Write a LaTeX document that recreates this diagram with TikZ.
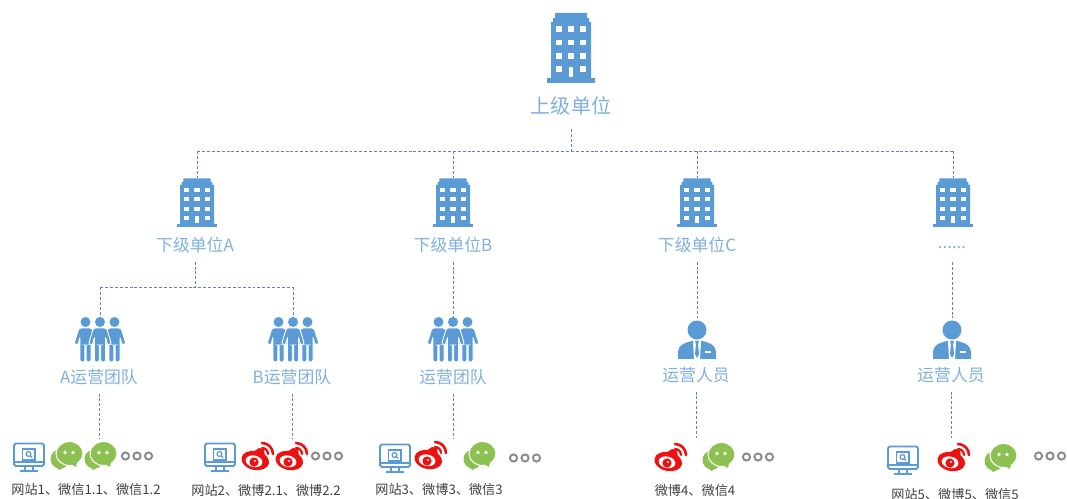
\documentclass[tikz,border=0pt]{standalone}
\usepackage{fontspec}
\setmainfont{Noto Sans CJK SC}

\definecolor{C0}{HTML}{5B9BD5}
\definecolor{C1}{HTML}{7FB0DD}
\definecolor{C2}{HTML}{8CC152}
\definecolor{C3}{HTML}{EE1111}
\definecolor{C4}{HTML}{5F83C9}
\definecolor{C5}{HTML}{8A8A8A}

\tikzset{
    link/.style={draw=C4, line width=0.55pt, dash pattern=on 1.7pt off 1.1pt},
    bigtext/.style={text=C1, font=\fontsize{11.4}{13}\selectfont, inner sep=0pt, outer sep=8pt},
    unittext/.style={text=C1, font=\fontsize{9.6}{12}\selectfont, inner sep=0pt, outer sep=5pt},
    smalltext/.style={text=black!75, font=\fontsize{7.5}{9}\selectfont, inner sep=0pt},
    smallunit/.style={xscale=0.85, yscale=0.7},
    pics/building/.style={code={
        \fill[C0] (-24,30) -- (24,30) -- (24,35) -- (-24,35) -- cycle;
        \fill[C0] (-20,31) -- (-20,-26) -- (-18,-26) -- (-18,-30) -- (-16,-30) -- (-16,-35)
            -- (16,-35) -- (16,-30) -- (18,-30) -- (18,-26) -- (20,-26) -- (20,31) -- cycle;
        \foreach \wx in {-12,0,12} {
            \foreach \wy in {-19,-5.5,8} {
                \fill[white] (\wx-3,\wy-2.8) rectangle (\wx+3,\wy+2.8);
            }
        }
        \fill[white] (-15,18.2) rectangle (-9,23.8);
        \fill[white] (9,18.2) rectangle (15,23.8);
        \fill[white] (-2.2,19) rectangle (2.2,29);
        \coordinate (-top) at (0,-35);
    }},
    pics/member/.style={code={
        \fill[C0] (0,-18) circle (5);
        \path[fill=C0, draw=white, line width=0.5pt, rounded corners=1.2pt]
            (-6.5,-12) -- (6.5,-12) -- (11.5,4) -- (7.5,5) -- (5.5,-3) -- (5.5,22) -- (0.7,22) -- (0.7,5)
            -- (-0.7,5) -- (-0.7,22) -- (-5.5,22) -- (-5.5,-3) -- (-7.5,5) -- (-11.5,4) -- cycle;
    }},
    pics/team/.style={code={
        \pic at (-14.5,0) {member};
        \pic at (14.5,0) {member};
        \pic at (0,0) {member};
        \coordinate (-top) at (0,-22);
    }},
    pics/person/.style={code={
        \fill[C0] (0,-10) circle (9.5);
        \fill[C0] (-19,19) -- (-19,12) .. controls (-19,6) and (-14,3) .. (-5,1) -- (5,1)
            .. controls (14,3) and (19,6) .. (19,12) -- (19,19) -- cycle;
        \fill[white] (-4,1) -- (4,1) -- (3,19) -- (-3,19) -- cycle;
        \fill[C0] (-1.8,1) -- (1.8,1) -- (1.1,5) -- (2,14) -- (0,18) -- (-2,14) -- (-1.1,5) -- cycle;
        \fill[white] (8,11.5) rectangle (14,13);
        \coordinate (-top) at (0,-22);
    }},
    pics/monitor/.style={code={
        \draw[C0, line width=1.1pt, rounded corners=1pt] (-15,-13.5) rectangle (15,9);
        \draw[C0, line width=0.7pt] (-15,5) -- (15,5);
        \draw[C0, line width=0.7pt] (-6.5,-8) rectangle (6,3);
        \draw[C0, line width=0.7pt] (-0.5,-3) circle (2.4) (1.2,-1.3) -- (3,0.5);
        \draw[C0, line width=1pt] (-4,9) -- (-4,13) (4,9) -- (4,13);
        \draw[C0, line width=1.1pt] (-9,14) -- (9,14);
    }},
    pics/wechat/.style={code={
        \fill[C2] (-7,3) ellipse [x radius=9.5, y radius=9.5];
        \fill[C2] (-12,9) -- (-8,14) -- (-2,11) -- cycle;
        \path[fill=C2, draw=white, line width=0.6pt] (2.5,-2.5) ellipse [x radius=13.5, y radius=12];
        \fill[C2] (4,8) -- (9,11) -- (10,6) -- cycle;
        \fill[white] (-2,-3.5) circle (1.9) (6,-3.5) circle (1.9);
    }},
    pics/weibo/.style={code={
        \fill[C3, rotate=-12] (-2,4) ellipse [x radius=14, y radius=9.5];
        \fill[C3] (-11,-1) -- (1,-9) -- (6,-8) -- (7,0) -- (0,4) -- cycle;
        \fill[white, rotate=-12] (-3,5) ellipse [x radius=8.5, y radius=5.8];
        \fill[C3] (-4,5) circle (4.6);
        \fill[white] (-3,4) circle (1.2);
        \draw[C3, line width=1.3pt, line cap=round] (4,-3) ++(-90:6) arc[start angle=-90, end angle=0, radius=6];
        \draw[C3, line width=1.5pt, line cap=round] (4,-3) ++(-90:11) arc[start angle=-90, end angle=0, radius=11];
    }},
    pics/more/.style={code={
        \foreach \ox in {-11.5,0,11.5} {
            \draw[C5, line width=1.1pt] (\ox,0) circle (3.6);
        }
    }},
}

\begin{document}
\begin{tikzpicture}[x=0.02cm, y=-0.02cm]
    \useasboundingbox (0,0) rectangle (1067,499);

    % top level
    \pic (top_unit) at (571,48) {building};
    \node[bigtext] (top_label) at (571,106) {上级单位};

    % second level
    \pic[smallunit] (unit_a) at (197,203) {building};
    \pic[smallunit] (unit_b) at (453,203) {building};
    \pic[smallunit] (unit_c) at (697,203) {building};
    \pic[smallunit] (unit_d) at (953,203) {building};
    \node[unittext] (unit_a_label) at (195,245) {下级单位A};
    \node[unittext] (unit_b_label) at (453,245) {下级单位B};
    \node[unittext] (unit_c_label) at (697,245) {下级单位C};
    \node[unittext, outer sep=7.5pt] (unit_d_label) at (952,248) {......};

    % third level
    \pic (team_a) at (100,340) {team};
    \pic (team_b) at (293,340) {team};
    \pic (team_c) at (453,340) {team};
    \pic (staff_c) at (697,340) {person};
    \pic (staff_d) at (952,340) {person};
    \node[unittext] (team_a_label) at (99,377) {A运营团队};
    \node[unittext] (team_b_label) at (292,377) {B运营团队};
    \node[unittext] (team_c_label) at (453,377) {运营团队};
    \node[unittext] (staff_c_label) at (696,375) {运营人员};
    \node[unittext] (staff_d_label) at (951,375) {运营人员};

    % junction points of the lines
    \coordinate (top_bus) at (571,151);
    \coordinate (bus_a) at (197,151);
    \coordinate (bus_b) at (453,151);
    \coordinate (bus_c) at (697,151);
    \coordinate (bus_d) at (953,151);
    \coordinate (team_bus) at (195,287);
    \coordinate (team_bus_a) at (100,287);
    \coordinate (team_bus_b) at (293,287);
    \coordinate (end_a) at (99,438);
    \coordinate (end_b) at (292,438);
    \coordinate (end_c) at (453,438);
    \coordinate (end_d) at (696,438);
    \coordinate (end_e) at (951,438);

    \path[link] (top_label.south) -- (top_bus);
    \path[link] (bus_a) -- (bus_d);
    \path[link] (bus_a) -- (unit_a-top);
    \path[link] (bus_b) -- (unit_b-top);
    \path[link] (bus_c) -- (unit_c-top);
    \path[link] (bus_d) -- (unit_d-top);

    \path[link] (unit_a_label.south) -- (team_bus);
    \path[link] (team_bus_a) -- (team_bus_b);
    \path[link] (team_bus_a) -- (team_a-top);
    \path[link] (team_bus_b) -- (team_b-top);
    \path[link] (unit_b_label.south) -- (team_c-top);
    \path[link] (unit_c_label.south) -- (staff_c-top);
    \path[link] (unit_d_label.south) -- (staff_d-top);

    \path[link] (team_a_label.south) -- (end_a);
    \path[link] (team_b_label.south) -- (end_b);
    \path[link] (team_c_label.south) -- (end_c);
    \path[link] (staff_c_label.south) -- (end_d);
    \path[link] (staff_d_label.south) -- (end_e);

    % accounts
    \pic at (29,457) {monitor};
    \pic at (67,456) {wechat};
    \pic at (101,456) {wechat};
    \pic at (137,456) {more};
    \node[smalltext] (accounts_a) at (86,490) {网站1、微信1.1、微信1.2};

    \pic at (220,457) {monitor};
    \pic at (258,457) {weibo};
    \pic at (292,457) {weibo};
    \pic at (327,456) {more};
    \node[smalltext] (accounts_b) at (266,490) {网站2、微博2.1、微博2.2};

    \pic at (395,458) {monitor};
    \pic at (431,456) {weibo};
    \pic at (480,456) {wechat};
    \pic at (525,458) {more};
    \node[smalltext] (accounts_c) at (439,490) {网站3、微博3、微信3};

    \pic at (671,458) {weibo};
    \pic at (719,457) {wechat};
    \pic at (758,457) {more};
    \node[smalltext] (accounts_d) at (695,491) {微博4、微信4};

    \pic at (903,460) {monitor};
    \pic at (954,458) {weibo};
    \pic at (1001,458) {wechat};
    \pic at (1050,456) {more};
    \node[smalltext] (accounts_e) at (955,495) {网站5、微博5、微信5};
\end{tikzpicture}
\end{document}
